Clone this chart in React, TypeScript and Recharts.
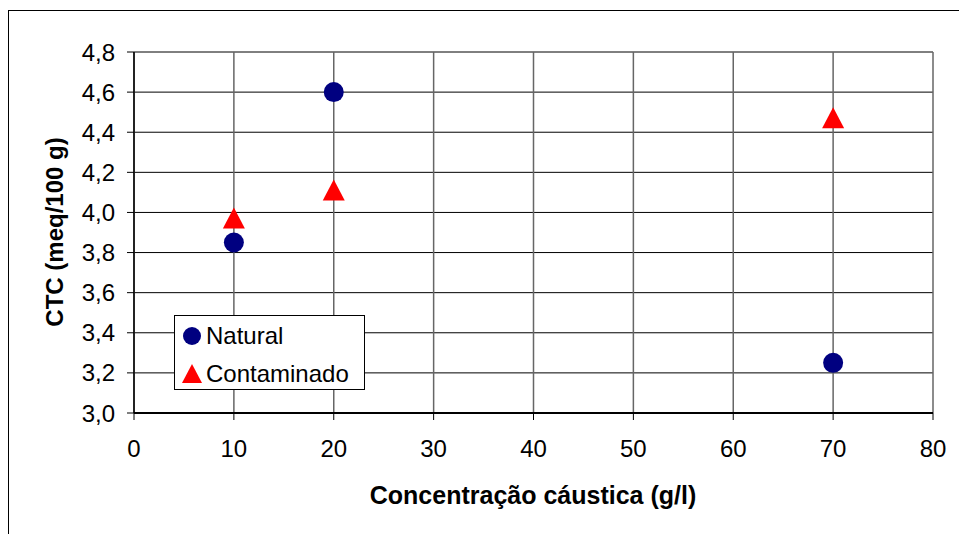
import React from 'react'
import {
  ScatterChart,
  Scatter,
  XAxis,
  YAxis,
  CartesianGrid,
  Legend,
} from 'recharts'

// concentração cáustica (g/l)
const concentracao = [10, 20, 70]
// CTC (meq/100 g)
const ctcNatural = [3.85, 4.6, 3.25]
const ctcContaminado = [3.97, 4.11, 4.47]

const xTicks = [0, 10, 20, 30, 40, 50, 60, 70, 80]
const yTicks = [3.0, 3.2, 3.4, 3.6, 3.8, 4.0, 4.2, 4.4, 4.6, 4.8]

const naturalData = concentracao.map((x, i) => ({ x, y: ctcNatural[i] }))
const contaminadoData = concentracao.map((x, i) => ({ x, y: ctcContaminado[i] }))

const font = '"Liberation Sans", Arial, sans-serif'

const CircleShape = (props: any) => {
  const { cx, cy } = props
  return <circle cx={cx} cy={cy} r={10} fill="#000080" />
}

const TriangleShape = (props: any) => {
  const { cx, cy } = props
  return (
    <polygon
      points={`${cx},${cy - 11} ${cx + 11},${cy + 10} ${cx - 11},${cy + 10}`}
      fill="#ff0000"
    />
  )
}

function LegendBox() {
  return (
    <div
      style={{
        width: 191,
        height: 75,
        boxSizing: 'border-box',
        border: '1px solid #000',
        background: '#fff',
        fontFamily: font,
        fontSize: 24,
        color: '#000',
        position: 'relative',
      }}
    >
      <svg width={30} height={75} style={{ position: 'absolute', left: 0, top: 0 }}>
        <circle cx={17} cy={20} r={9} fill="#000080" />
        <polygon points="17,48 27,67 7,67" fill="#ff0000" />
      </svg>
      <div style={{ position: 'absolute', left: 31, top: 6, lineHeight: '28px' }}>Natural</div>
      <div style={{ position: 'absolute', left: 31, top: 44, lineHeight: '28px' }}>Contaminado</div>
    </div>
  )
}

export default function App() {
  const fmt = (v: number) => v.toFixed(1).replace('.', ',')
  return (
    <div
      style={{
        position: 'absolute',
        left: 0,
        top: 0,
        width: 959,
        height: 534,
        overflow: 'hidden',
        background: '#fff',
      }}
    >
      <div
        style={{
          position: 'absolute',
          left: 8,
          top: 10,
          width: 1000,
          height: 600,
          border: '1px solid #000',
        }}
      />
      <ScatterChart
        width={959}
        height={534}
        margin={{ top: 52, right: 26, bottom: 31, left: 54 }}
        style={{ fontFamily: font, position: 'absolute', left: 0, top: 0 }}
      >
        <CartesianGrid vertical={false} stroke="#000" strokeWidth={1} />
        <CartesianGrid horizontal={false} stroke="#666" strokeWidth={1.5} />
        <XAxis
          type="number"
          dataKey="x"
          domain={[0, 80]}
          ticks={xTicks}
          interval={0}
          tickSize={7}
          tickMargin={20}
          axisLine={{ stroke: '#000', strokeWidth: 2 }}
          tickLine={{ stroke: '#000' }}
          tick={{ fill: '#000', fontSize: 24 }}
          height={90}
          label={() => (
            <text
              x={533}
              y={495}
              textAnchor="middle"
              dominantBaseline="central"
              fontSize={25}
              fontWeight="bold"
              fill="#000"
            >
              Concentração cáustica (g/l)
            </text>
          )}
        />
        <YAxis
          type="number"
          dataKey="y"
          domain={[3, 4.8]}
          ticks={yTicks}
          interval={0}
          tickFormatter={fmt}
          tickSize={7}
          tickMargin={12}
          axisLine={{ stroke: '#000', strokeWidth: 1.5 }}
          tickLine={{ stroke: '#000' }}
          tick={{ fill: '#000', fontSize: 24 }}
          width={80}
          label={() => (
            <text
              x={54}
              y={232}
              transform="rotate(-90 54 232)"
              textAnchor="middle"
              dominantBaseline="central"
              fontSize={24}
              fontWeight="bold"
              fill="#000"
            >
              CTC (meq/100 g)
            </text>
          )}
        />
        <Legend
          layout="vertical"
          align="center"
          verticalAlign="middle"
          content={() => <LegendBox />}
          wrapperStyle={{ position: 'absolute', left: 174, top: 315, width: 191, height: 75 }}
        />
        <Scatter
          name="Natural"
          data={naturalData}
          shape={CircleShape}
          isAnimationActive={false}
        />
        <Scatter
          name="Contaminado"
          data={contaminadoData}
          shape={TriangleShape}
          isAnimationActive={false}
        />
      </ScatterChart>
    </div>
  )
}
